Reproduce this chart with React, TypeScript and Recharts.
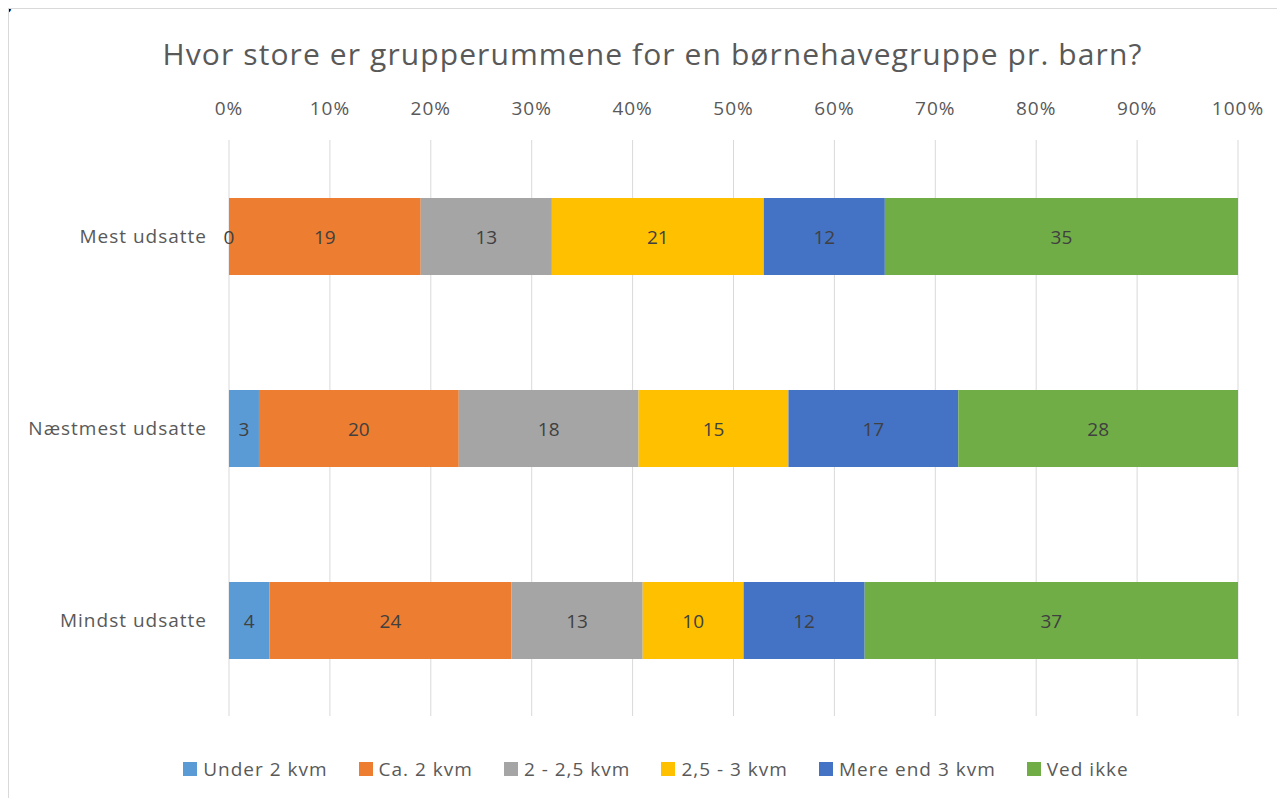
import { Bar, BarChart, XAxis, YAxis, CartesianGrid, Legend, LabelList } from "recharts";

const groups = ["Mest udsatte", "Næstmest udsatte", "Mindst udsatte"];
const seriesNames = ["Under 2 kvm", "Ca. 2 kvm", "2 - 2,5 kvm", "2,5 - 3 kvm", "Mere end 3 kvm", "Ved ikke"];
const seriesColors = ["#5B9BD5", "#ED7D31", "#A5A5A5", "#FFC000", "#4472C4", "#70AD47"];

const under2 = [0, 3, 4];
const ca2 = [19, 20, 24];
const fra2til25 = [13, 18, 13];
const fra25til3 = [21, 15, 10];
const mereEnd3 = [12, 17, 12];
const vedIkke = [35, 28, 37];

const percentTicks = [0, 0.1, 0.2, 0.3, 0.4, 0.5, 0.6, 0.7, 0.8, 0.9, 1];

const seriesValues = [under2, ca2, fra2til25, fra25til3, mereEnd3, vedIkke];

const data = groups.map((name, i) => {
  const row: Record<string, string | number> = { name };
  seriesNames.forEach((s, j) => {
    row[s] = seriesValues[j][i];
  });
  return row;
});

const FONT = "'Open Sans', Lato, sans-serif";

function LegendContent() {
  return (
    <div style={{ display: "flex", justifyContent: "center", fontFamily: FONT, fontSize: 19, letterSpacing: 1, color: "#595959" }}>
      {seriesNames.map((s, i) => (
        <span key={s} style={{ display: "inline-flex", alignItems: "center", marginRight: i < seriesNames.length - 1 ? 31 : 0 }}>
          <span style={{ width: 14, height: 14, background: seriesColors[i], display: "inline-block", marginRight: 6 }} />
          {s}
        </span>
      ))}
    </div>
  );
}

// draws the value even when the segment has zero width
const renderValue = (props: any) => {
  const { x, y, width, height, value } = props;
  if (value === undefined || value === null) return null;
  return (
    <text
      x={Number(x) + Number(width) / 2}
      y={Number(y) + Number(height) / 2}
      textAnchor="middle"
      dominantBaseline="central"
      fill="#404040"
      fontSize={19}
      fontFamily={FONT}
    >
      {value}
    </text>
  );
};

export default function App() {
  return (
    <div style={{ position: "relative", width: 1277, height: 790, overflow: "hidden" }}>
      <div style={{ position: "absolute", left: -8, top: -21, fontFamily: FONT, fontWeight: 700, fontSize: 20, color: "#000" }}>g</div>
      <div style={{ position: "absolute", left: 0, top: 0, width: 1400, height: 900, borderLeft: "1px solid #d9d9d9", borderTop: "1px solid #d9d9d9" }} />
      <div
        style={{
          position: "absolute",
          left: 0,
          top: 25,
          width: 1289,
          textAlign: "center",
          fontFamily: FONT,
          fontSize: 30,
          letterSpacing: 1.1,
          color: "#595959",
        }}
      >
        Hvor store er grupperummene for en børnehavegruppe pr. barn?
      </div>
      <div style={{ position: "absolute", left: 0, top: 0 }}>
        <BarChart
          width={1277}
          height={790}
          data={data}
          layout="vertical"
          stackOffset="expand"
          margin={{ top: 102, right: 47, bottom: 82, left: 21 }}
        >
          <CartesianGrid horizontal={false} stroke="#d9d9d9" />
          <XAxis
            type="number"
            orientation="top"
            domain={[0, 1]}
            ticks={percentTicks}
            tickFormatter={(v: number) => `${Math.round(v * 100)}%`}
            axisLine={false}
            tickLine={false}
            tickSize={0}
            tickMargin={25}
            height={30}
            tick={{ fill: "#595959", fontSize: 19, fontFamily: FONT, letterSpacing: 1 }}
            interval={0}
          />
          <YAxis
            type="category"
            dataKey="name"
            axisLine={false}
            tickLine={false}
            tickSize={0}
            tickMargin={22}
            width={200}
            tick={{ fill: "#595959", fontSize: 19, fontFamily: FONT, letterSpacing: 1 }}
          />
          <Legend
            layout="horizontal"
            verticalAlign="middle"
            align="center"
            content={<LegendContent />}
            wrapperStyle={{ top: 748, left: 0, width: 1296 }}
          />
          {seriesNames.map((s, i) => (
            <Bar
              key={s}
              dataKey={s}
              stackId="a"
              fill={seriesColors[i]}
              barSize={77}
              minPointSize={i === 0 ? 0.01 : 0}
              isAnimationActive={false}
            >
              <LabelList dataKey={s} content={renderValue} />
            </Bar>
          ))}
        </BarChart>
      </div>
    </div>
  );
}
